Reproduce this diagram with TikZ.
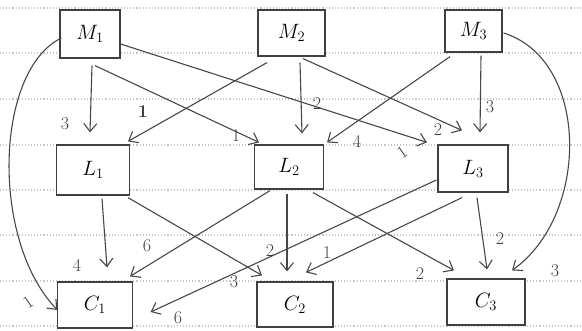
\documentclass[tikz,border=0pt]{standalone}
\usetikzlibrary{arrows.meta,calc}
\tikzset{
  box/.style={draw=black!75, line width=1.2pt, fill=white, inner sep=0pt, font=\fontsize{21}{23}\selectfont},
  arr/.style={draw=black!72, line width=1.1pt, -{Straight Barb[length=8pt,width=13pt,line width=1.1pt]}},
  lbl/.style={text=black!75, inner sep=0pt, font=\fontsize{18}{20}\selectfont},
  rule/.style={draw=gray!45, line width=1.1pt, dotted}
}
\begin{document}
\begin{tikzpicture}[x=1pt,y=-1pt]
\useasboundingbox (0,0) rectangle (582,330);
\fill[white] (0,0) rectangle (582,330);
% ruled paper
\foreach \yy in {8,53,99,145,190,235,281,326}{
  \draw[rule] (0,\yy) -- (582,\yy);
}
% nodes
\node[box, minimum width=60pt, minimum height=48pt] (m1) at (90,34) {$M_1$};
\node[box, minimum width=67pt, minimum height=46pt] (m2) at (291.5,33) {$M_2$};
\node[box, minimum width=57pt, minimum height=42pt] (m3) at (473.5,31) {$M_3$};
\node[box, minimum width=73pt, minimum height=50pt] (l1) at (93,170) {$L_1$};
\node[box, minimum width=69pt, minimum height=44pt] (l2) at (289,167) {$L_2$};
\node[box, minimum width=70pt, minimum height=47pt] (l3) at (473,168.5) {$L_3$};
\node[box, minimum width=75pt, minimum height=46pt] (c1) at (95,305) {$C_1$};
\node[box, minimum width=76pt, minimum height=45pt] (c2) at (295,304.5) {$C_2$};
\node[box, minimum width=78pt, minimum height=46pt] (c3) at (486,302) {$C_3$};
% M -> L
\draw[arr] ($(m1.south)+(2,7)$) -- ($(l1.north)+(-3,-12)$);
\draw[arr] ($(m1.south)+(5,7)$) -- ($(l2.north)+(-30,-2)$);
\draw[arr] ($(m1.east)+(0,10)$) -- ($(l3.north)+(-46,-2)$);
\draw[arr] ($(m2.south)+(-24.5,6)$) -- ($(l1.north)+(35,-3)$);
\draw[arr] ($(m2.south)+(8.5,6)$) -- ($(l2.north)+(13,-11)$);
\draw[arr] ($(m2.south)+(11.5,2)$) -- ($(l3.north)+(-11,-14)$);
\draw[arr] ($(m3.south)+(-23.5,4)$) -- ($(l2.north)+(38,-2)$);
\draw[arr] ($(m3.south)+(7.5,3)$) -- ($(l3.north)+(7,-12)$);
% M -> C curves
\draw[arr] ($(m1.west)+(2,4)$) .. controls (-5,70) and (-10,240) .. ($(c1.west)+(0.5,5)$);
\draw[arr] ($(m3.east)+(1,2)$) .. controls (590,60) and (590,215) .. ($(c3.north)+(26,-8)$);
% L -> C
\draw[arr] ($(l1.south)+(9,3)$) -- ($(c1.north)+(12,-14)$);
\draw[arr] ($(l1.south)+(35,2)$) -- ($(c2.north)+(-33,-6)$);
\draw[arr] ($(l2.south)+(-19,1)$) -- ($(c1.north)+(35,-5)$);
\draw[arr] ($(l2.south)+(-2,4)$) -- ($(c2.north)+(-8,-10)$);
\draw[arr] ($(l2.south)+(24,3)$) -- ($(c3.north)+(-32,-8)$);
\draw[arr] ($(l3.west)+(-1,11.5)$) -- ($(c1.east)+(17.5,7)$);
\draw[arr] ($(l3.south)+(-11,5)$) -- ($(c2.north)+(11,-9)$);
\draw[arr] ($(l3.south)+(4,5)$) -- ($(c3.north)+(1,-9)$);
% labels
\node[lbl] (t1) at (65,124) {3};
\node[lbl] (t2) at (236,136) {1};
\node[lbl, font=\bfseries\fontsize{18}{20}\selectfont] (t3) at (143,112) {1};
\node[lbl] (t4) at (317,104) {2};
\node[lbl] (t5) at (357,141) {4};
\node[lbl, rotate=35] (t6) at (402,152) {1};
\node[lbl] (t7) at (438,130) {2};
\node[lbl] (t8) at (490,107) {3};
\node[lbl, rotate=35] (t9) at (28,302) {1};
\node[lbl] (t10) at (77,265) {4};
\node[lbl] (t11) at (147,246) {6};
\node[lbl] (t12) at (234,282) {3};
\node[lbl] (t13) at (270,251) {2};
\node[lbl] (t14) at (327,253) {1};
\node[lbl] (t15) at (178,318) {6};
\node[lbl] (t16) at (420,274) {2};
\node[lbl] (t17) at (500,239) {2};
\node[lbl] (t18) at (555,271) {3};
\end{tikzpicture}
\end{document}
